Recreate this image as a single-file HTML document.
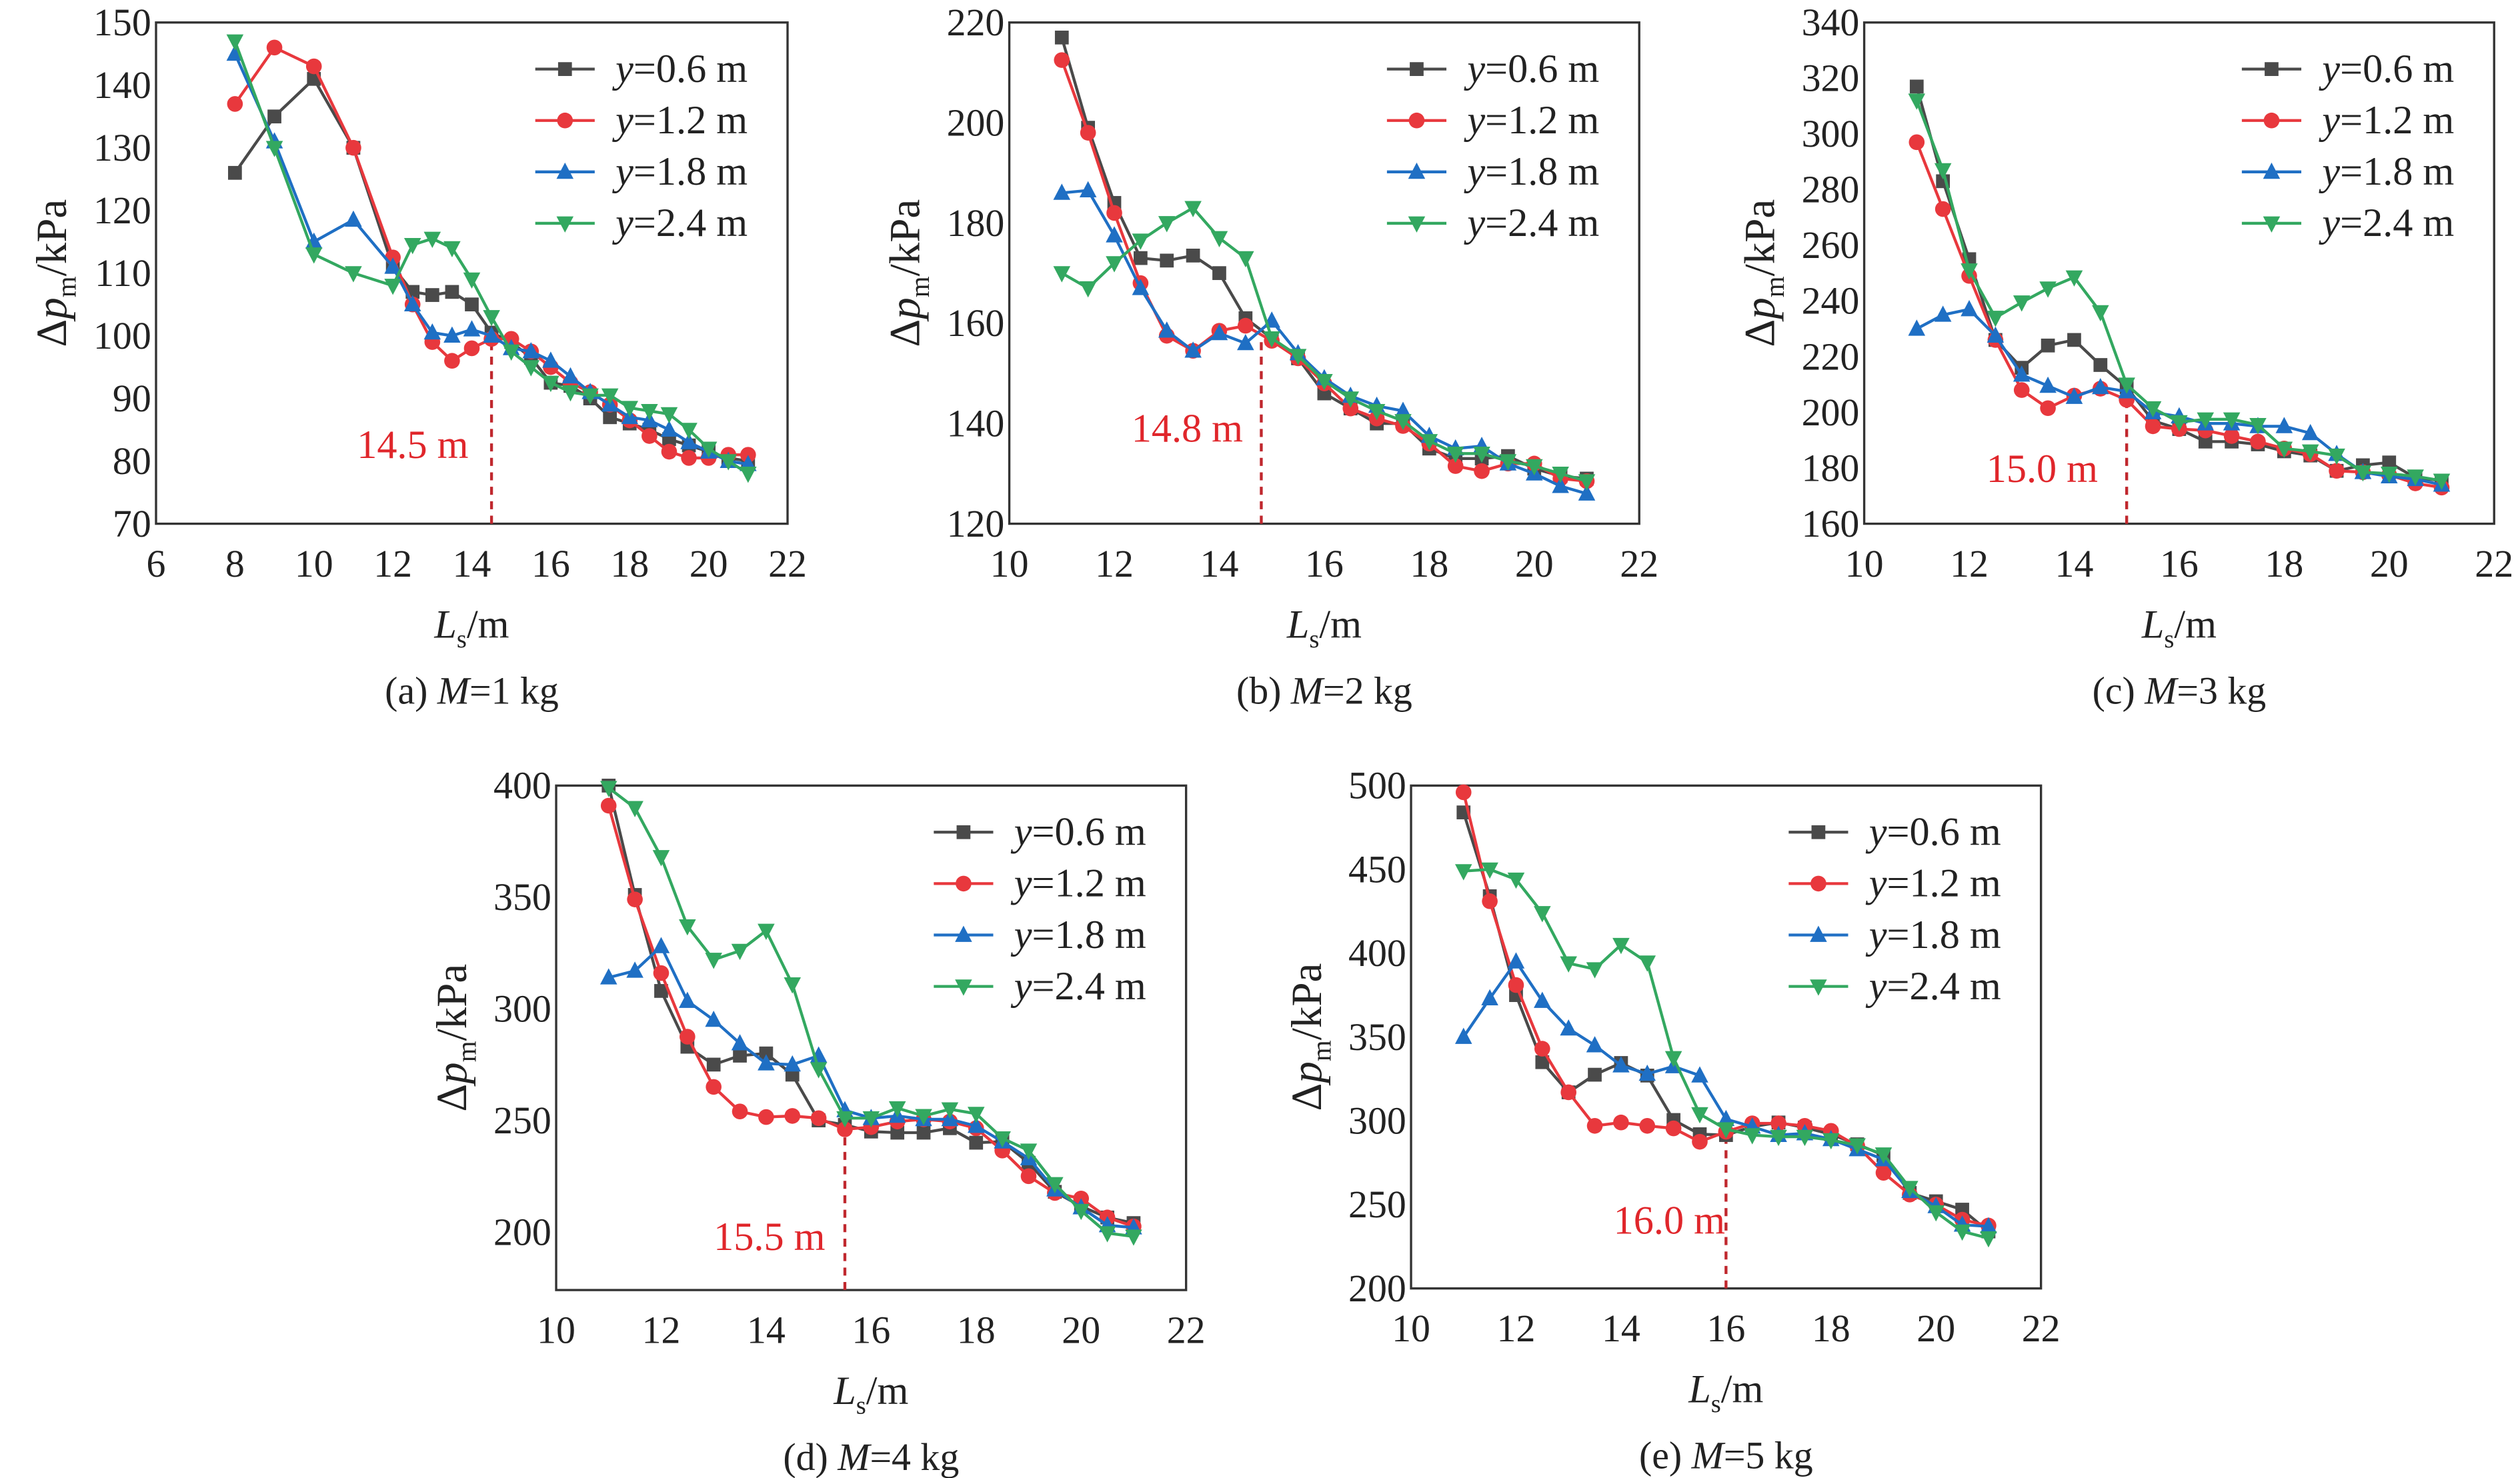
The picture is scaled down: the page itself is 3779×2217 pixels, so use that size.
<!DOCTYPE html><html><head><meta charset="utf-8"><style>html,body{margin:0;padding:0;background:#fff}svg{display:block}svg text{font-family:"Liberation Serif","Tinos","Times New Roman","Times","DejaVu Serif",serif}</style></head><body>
<svg id="s" xmlns="http://www.w3.org/2000/svg" width="3779" height="2217" viewBox="0 0 1568 920"></svg>
<script>
const S=document.getElementById('s');let h='';
const cols=['#4a4a4a','#e8383d','#1f6fc4','#33a860'];
const X2=[11,11.5,12,12.5,13,13.5,14,14.5,15,15.5,16,16.5,17,17.5,18,18.5,19,19.5,20,20.5,21];
const X1=[8,9,10,11,12,12.5,13,13.5,14,14.5,15,15.5,16,16.5,17,17.5,18,18.5,19,19.5,20,20.5,21];
const P=[
{L:97,R:490,T:14,B:326,x0:6,x1:22,xt:[6,8,10,12,14,16,18,20,22],y0:70,y1:150,yt:[70,80,90,100,110,120,130,140,150],X:X1,cap:'(a) ',M:'1',d:14.5,dv:100,lx:222,ly:285,ld:'14.5 m',
D:[[126,135,141,130,111,107,106.5,107,105,100.5,99,96.5,92.5,92,90,87,86,85,83.5,82.5,81.5,80.5,80],
[137,146,143,130,112.5,105,99,96,98,99.5,99.5,97.5,95,92.5,91,89,86.5,84,81.5,80.5,80.5,81,81],
[145,131,115,118.5,111,105,100.5,100,101,100,98,97.5,96,93.5,91,89,87,86.5,85,83,81.5,80,79.5],
[147,130,113,110,108,114.5,115.5,114,109,103,97.5,95,92.5,91,90.5,90.5,88.5,88,87.5,85,82,80,78]]},
{L:628,R:1020,T:14,B:326,x0:10,x1:22,xt:[10,12,14,16,18,20,22],y0:120,y1:220,yt:[120,140,160,180,200,220],X:X2,cap:'(b) ',M:'2',d:14.8,dv:157,lx:704,ly:275,ld:'14.8 m',
D:[[217,199,184,173,172.5,173.5,170,161,157,153,146,143,140,140,135,133,133,133.5,131,129.5,129],
[212.5,198,182,168,157.5,154.5,158.5,159.5,156.5,153,148,143,141,139.5,136,131.5,130.5,132,132,129,128.5],
[186,186.5,177.5,167,158.5,154.5,158,156,160.5,154,149,145.5,143.5,142.5,137.5,135,135.5,132,130,127.5,126],
[170,167,172,176.5,180,183,177,173,157,153.5,148.5,145,142.5,140.5,136.5,134,134,132.5,131.5,130,128.5]]},
{L:1160,R:1552,T:14,B:326,x0:10,x1:22,xt:[10,12,14,16,18,20,22],y0:160,y1:340,yt:[160,180,200,220,240,260,280,300,320,340],X:X2,cap:'(c) ',M:'3',d:15,dv:205,lx:1236,ly:300,ld:'15.0 m',
D:[[317,283,255,226,216,224,226,217,209,197,194,189.5,189.5,188.5,186,184.5,179,181,182,176.5,175.5],
[297,273,249,226,208,201.5,206,208.5,204.5,195,194,193.5,191.5,189.5,187,185,179,178.5,177.5,174.5,173],
[230,235,237,227.5,213.5,209.5,205.5,209,207.5,200,198.5,196,196,195,195,192.5,185,178.5,177,176,174],
[312,287,251,234,239.5,244.5,248.5,236,210,201.5,196.5,197.5,197.5,195.5,187,186,184.5,178.5,178,177,175.5]]},
{L:346,R:738,T:489,B:803,x0:10,x1:22,xt:[10,12,14,16,18,20,22],y0:174,y1:400,yt:[200,250,300,350,400],X:X2,cap:'(d) ',M:'4',d:15.5,dv:246,lx:444,ly:778,ld:'15.5 m',
D:[[400,351,308,283,275,279,280,270.5,250,248,245,244.5,244.5,246.5,240,240.5,231,218,211.5,206.5,204],
[391,349,316,287.5,265,254,251.5,252,251,246,247,249.5,250.5,249.5,246.5,236.5,225,217.5,215,206.5,202.5],
[314,317,328,303.5,295,284.5,275.5,275,279,254.5,251,252,250.5,250.5,247.5,240.5,233,219,211,203,202],
[399,390,368,337,322,326,335,311,273,251,251,255.5,252,255,253,242,236.5,221.5,209.5,199.5,198]]},
{L:878,R:1270,T:489,B:802,x0:10,x1:22,xt:[10,12,14,16,18,20,22],y0:200,y1:500,yt:[200,250,300,350,400,450,500],X:X2,cap:'(e) ',M:'5',d:16,dv:292,lx:1004,ly:768,ld:'16.0 m',
D:[[484,434,375,335,317,327.5,334.5,327,300.5,292,291.5,296.5,299,296,292,286,279.5,257,252,247,234],
[496,431,381,343,317,297,299,297,295.5,287.5,293.5,298.5,298.5,297,294,285,269,256,250,241,237.5],
[350,373,395,371.5,355,345,333,328,332.5,327,301,296.5,291.5,292.5,289,283,277,258,249,238,237],
[449,450,444,424,394,390.5,405,394.5,337.5,304,295,291.5,290.5,290.5,288.5,285.5,280,260,245.5,234,230]]}
];
function mk(t,x,y,c){const r=4.3;
if(t==0)return `<rect x="${x-r}" y="${y-r}" width="${2*r}" height="${2*r}" fill="${c}"/>`;
if(t==1)return `<circle cx="${x}" cy="${y}" r="${r+0.6}" fill="${c}"/>`;
if(t==2)return `<polygon points="${x},${y-r-1.5} ${x-r-1},${y+r} ${x+r+1},${y+r}" fill="${c}"/>`;
return `<polygon points="${x},${y+r+1.5} ${x-r-1},${y-r} ${x+r+1},${y-r}" fill="${c}"/>`;}
P.forEach(p=>{
const fx=v=>p.L+(v-p.x0)/(p.x1-p.x0)*(p.R-p.L), fy=v=>p.B-(v-p.y0)/(p.y1-p.y0)*(p.B-p.T);
h+=`<rect x="${p.L}" y="${p.T}" width="${p.R-p.L}" height="${p.B-p.T}" fill="none" stroke="#333" stroke-width="1.4"/>`;
p.xt.forEach(v=>h+=`<text x="${fx(v)}" y="${p.B+33}" font-size="24" text-anchor="middle" fill="#222">${v}</text>`);
p.yt.forEach(v=>h+=`<text x="${p.L-3}" y="${fy(v)+8}" font-size="24" text-anchor="end" fill="#222">${v}</text>`);
const cx=(p.L+p.R)/2;
h+=`<text x="${cx}" y="${p.B+71}" font-size="25" text-anchor="middle" fill="#222"><tspan font-style="italic">L</tspan><tspan font-size="16" dy="6">s</tspan><tspan dy="-6">/m</tspan></text>`;
h+=`<text x="${cx}" y="${p.B+112}" font-size="24" text-anchor="middle" fill="#222">${p.cap}<tspan font-style="italic">M</tspan>=${p.M} kg</text>`;
const yc=(p.T+p.B)/2;
h+=`<text transform="translate(${p.L-56},${yc}) rotate(-90)" font-size="27" text-anchor="middle" fill="#222">Δ<tspan font-style="italic">p</tspan><tspan font-size="17" dy="6">m</tspan><tspan dy="-6">/kPa</tspan></text>`;
h+=`<line x1="${fx(p.d)}" y1="${p.B}" x2="${fx(p.d)}" y2="${fy(p.dv)}" stroke="#c0282e" stroke-width="1.8" stroke-dasharray="5,4"/>`;
h+=`<text x="${p.lx}" y="${p.ly}" font-size="25" fill="#e0262b">${p.ld}</text>`;
p.D.forEach((s,i)=>{const pts=s.map((v,j)=>fx(p.X[j])+','+fy(v));
h+=`<polyline points="${pts.join(' ')}" fill="none" stroke="${cols[i]}" stroke-width="1.8"/>`;
s.forEach((v,j)=>h+=mk(i,fx(p.X[j]),fy(v),cols[i]));});
const lx=p.R-157, ly0=p.T+29;
['0.6','1.2','1.8','2.4'].forEach((t,i)=>{const y=ly0+i*32;
h+=`<line x1="${lx}" y1="${y}" x2="${lx+37}" y2="${y}" stroke="${cols[i]}" stroke-width="1.8"/>`+mk(i,lx+18.5,y,cols[i]);
h+=`<text x="${lx+50}" y="${y+8}" font-size="25" fill="#222"><tspan font-style="italic">y</tspan>=${t} m</text>`;});
});
S.innerHTML=h;
</script></body></html>
